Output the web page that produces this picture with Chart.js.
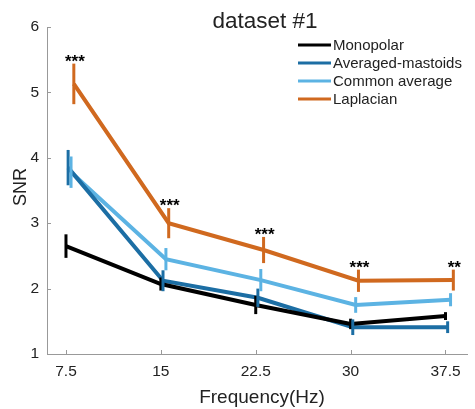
<!DOCTYPE html>
<html>
<head>
<meta charset="utf-8">
<script src="https://cdn.jsdelivr.net/npm/chart.js@4"></script>
<style>
  html, body { margin: 0; padding: 0; background: #fff; }
  #wrap { width: 475px; height: 409px; }
</style>
</head>
<body>
<div id="wrap"><canvas id="snrChart" width="475" height="409"></canvas></div>
<script>
const freqs = [7.5, 15, 22.5, 30, 37.5];
const seriesNames = ['Monopolar', 'Averaged-mastoids', 'Common average', 'Laplacian'];
const monopolar = [2.65, 2.07, 1.75, 1.46, 1.58];
const monopolarErr = [0.18, 0.10, 0.14, 0.08, 0.06];
const avgMastoids = [3.85, 2.12, 1.86, 1.41, 1.41];
const avgMastoidsErr = [0.27, 0.16, 0.14, 0.12, 0.09];
const commonAvg = [3.78, 2.45, 2.13, 1.75, 1.83];
const commonAvgErr = [0.24, 0.17, 0.17, 0.12, 0.10];
const laplacian = [5.13, 3.00, 2.59, 2.12, 2.13];
const laplacianErr = [0.31, 0.23, 0.20, 0.17, 0.16];
const stars = ['***', '***', '***', '***', '**'];
const xTicks = [7.5, 15, 22.5, 30, 37.5];
const yTicks = [1, 2, 3, 4, 5, 6];

const colors = ['#000000', '#1c6ea4', '#5cb3e3', '#d0691f'];
const jitter = [0, 0.17, 0.4, 0.62]; // small x shift so the bars don't overlap
const values = [monopolar, avgMastoids, commonAvg, laplacian];
const errors = [monopolarErr, avgMastoidsErr, commonAvgErr, laplacianErr];

const datasets = seriesNames.map((name, i) => ({
  label: name,
  data: freqs.map((f, j) => ({ x: f + jitter[i], y: values[i][j] })),
  err: errors[i],
  borderColor: colors[i],
  backgroundColor: colors[i],
  borderWidth: 4,
  pointRadius: 0,
  showLine: true,
  tension: 0
}));

const font = 'Liberation Sans, Arial, sans-serif';

// error bars, stars, legend, titles, inward ticks
const extras = {
  id: 'extras',
  afterDatasetsDraw(chart) {
    const ctx = chart.ctx;
    const xs = chart.scales.x, ys = chart.scales.y;
    ctx.save();
    chart.data.datasets.forEach((ds) => {
      ctx.strokeStyle = ds.borderColor;
      ctx.lineWidth = 3;
      ds.data.forEach((p, j) => {
        const px = xs.getPixelForValue(p.x);
        ctx.beginPath();
        ctx.moveTo(px, ys.getPixelForValue(p.y - ds.err[j]));
        ctx.lineTo(px, ys.getPixelForValue(p.y + ds.err[j]));
        ctx.stroke();
      });
    });
    // significance stars above Laplacian
    const lap = chart.data.datasets[3];
    ctx.fillStyle = '#000';
    ctx.font = 'bold 17px ' + font;
    ctx.textAlign = 'center';
    ctx.textBaseline = 'alphabetic';
    lap.data.forEach((p, j) => {
      const px = xs.getPixelForValue(p.x);
      const top = ys.getPixelForValue(p.y + lap.err[j]);
      ctx.fillText(stars[j], px + 1, top + 3);
    });
    ctx.restore();
  },
  afterDraw(chart) {
    const ctx = chart.ctx;
    const xs = chart.scales.x, ys = chart.scales.y;
    const a = chart.chartArea;
    ctx.save();
    // inward ticks
    ctx.strokeStyle = '#999';
    ctx.lineWidth = 1;
    xTicks.forEach(t => {
      const px = Math.round(xs.getPixelForValue(t)) + 0.5;
      ctx.beginPath(); ctx.moveTo(px, a.bottom); ctx.lineTo(px, a.bottom - 4); ctx.stroke();
    });
    yTicks.forEach(t => {
      const py = Math.round(ys.getPixelForValue(t)) + 0.5;
      ctx.beginPath(); ctx.moveTo(a.left, py); ctx.lineTo(a.left + 4, py); ctx.stroke();
    });
    ctx.fillStyle = '#222';
    ctx.textBaseline = 'alphabetic';
    ctx.textAlign = 'center';
    // title
    ctx.font = '22.5px ' + font;
    ctx.fillText('dataset #1', 265, 28);
    // axis titles
    ctx.font = '19px ' + font;
    ctx.fillText('Frequency(Hz)', 262, 403);
    ctx.save();
    ctx.translate(26, 187);
    ctx.rotate(-Math.PI / 2);
    ctx.font = '18px ' + font;
    ctx.fillText('SNR', 0, 0);
    ctx.restore();
    // legend
    ctx.font = '15px ' + font;
    ctx.textAlign = 'left';
    ctx.textBaseline = 'middle';
    chart.data.datasets.forEach((ds, i) => {
      const y = 45 + i * 18;
      ctx.strokeStyle = ds.borderColor;
      ctx.lineWidth = 3;
      ctx.beginPath(); ctx.moveTo(298, y); ctx.lineTo(331, y); ctx.stroke();
      ctx.fillStyle = '#222';
      ctx.fillText(ds.label, 333, y + 1);
    });
    ctx.restore();
  }
};

new Chart(document.getElementById('snrChart'), {
  type: 'scatter',
  data: { datasets },
  options: {
    responsive: false,
    animation: false,
    layout: { padding: { top: 27, right: 8, left: 0, bottom: 0 } },
    plugins: { legend: { display: false }, tooltip: { enabled: false } },
    scales: {
      x: {
        type: 'linear',
        min: 6,
        max: 39.2,
        afterBuildTicks: s => { s.ticks = xTicks.map(v => ({ value: v })); },
        afterFit: s => { s.height = 55; },
        grid: { drawOnChartArea: false, drawTicks: false },
        border: { color: '#999', width: 1 },
        ticks: { color: '#222', font: { size: 15.5, family: font }, padding: 8 }
      },
      y: {
        min: 1,
        max: 6,
        afterBuildTicks: s => { s.ticks = yTicks.map(v => ({ value: v })); },
        afterFit: s => { s.width = 47; },
        grid: { drawOnChartArea: false, drawTicks: false },
        border: { color: '#999', width: 1 },
        ticks: { color: '#222', font: { size: 15.5, family: font }, padding: 8 }
      }
    }
  },
  plugins: [extras]
});
</script>
</body>
</html>
